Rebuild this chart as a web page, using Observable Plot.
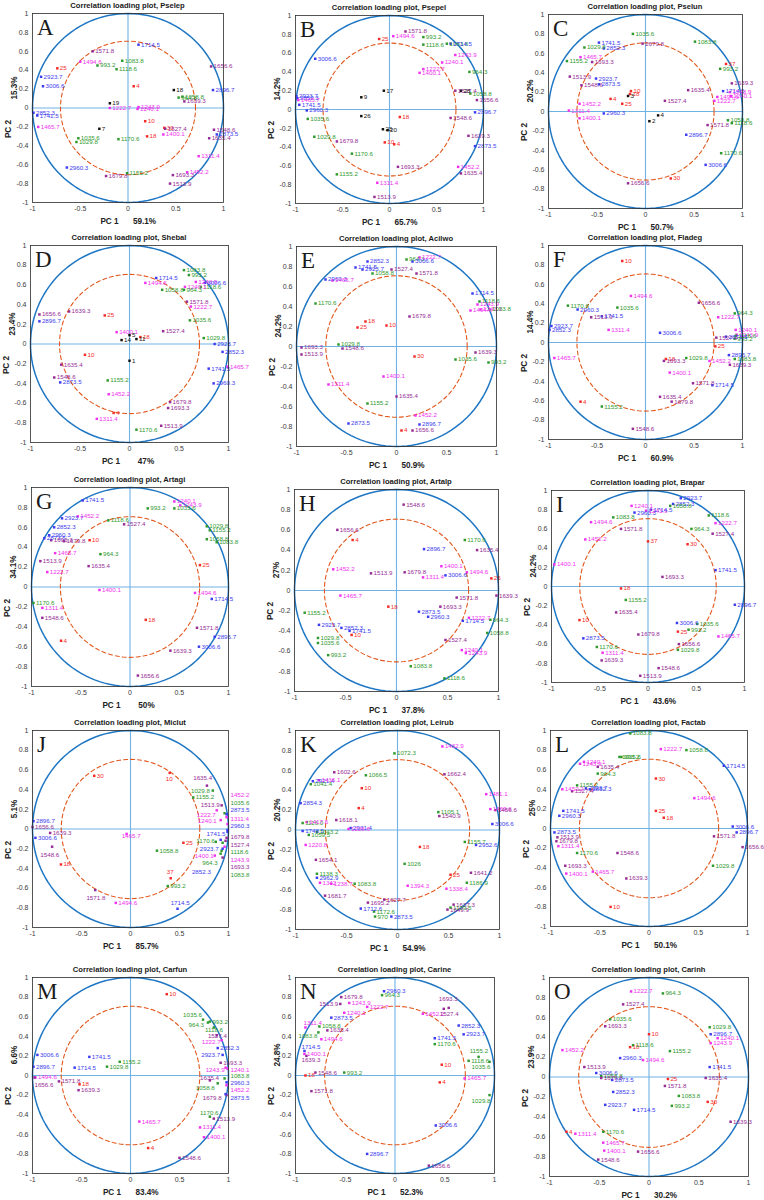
<!DOCTYPE html>
<html><head><meta charset="utf-8">
<script src="https://cdn.jsdelivr.net/npm/d3@7"></script>
<script src="https://cdn.jsdelivr.net/npm/@observablehq/plot@0.6"></script>
<style>
body{margin:0;background:#fff;font-family:"Liberation Sans",Arial,sans-serif;}
#page{position:relative;width:764px;height:1200px;overflow:hidden;background:#fff;}
.t{position:absolute;white-space:nowrap;color:#1a1a1a;line-height:1;}
.pl{position:absolute;}
</style></head><body><div id="page"></div>
<script>
// ---------- chart texts ----------
const titles = ["Pselep","Psepel","Pselun","Shebal","Acilwo","Fladeg","Artagi","Artalp","Brapar","Miclut","Leirub","Factab","Carfun","Carine","Carinh"];
const letters = ["A","B","C","D","E","F","G","H","I","J","K","L","M","N","O"];
const pc1 = ["59.1%","65.7%","50.7%","47%","50.9%","60.9%","50%","37.8%","43.6%","85.7%","54.9%","50.1%","83.4%","52.3%","30.2%"];
const pc2 = ["15.3%","14.2%","20.2%","23.4%","24.2%","14.4%","34.1%","27%","24.2%","5.1%","20.2%","25%","6.6%","24.8%","23.9%"];
const xTicks = [-1,-0.5,0,0.5,1];
const yTicks = [-1,-0.8,-0.6,-0.4,-0.2,0,0.2,0.4,0.6,0.8,1];
const groups = ["b","g","m","p","r","k"];
const groupColors = ["#3c3cf0","#2f9a2f","#f032f0","#962d96","#f52a2a","#111111"];
const innerRadius = 0.707;

// ---------- loadings: [label, PC1, PC2, group, (labelX, labelY, anchor)] ----------
const pA = [["1714.5",0.11,0.67,"b"],["1571.8",-0.37,0.60,"p"],["25",-0.74,0.42,"r"],["1494.6",-0.50,0.49,"m"],["993.2",-0.32,0.45,"g"],["1083.8",-0.06,0.50,"g"],["1118.6",-0.12,0.41,"g"],["1656.6",0.87,0.44,"p"],["2923.7",-0.91,0.33,"b"],["3006.6",-0.89,0.23,"b"],["4",0.06,0.23,"r"],["18",0.48,0.19,"k"],["2896.7",0.89,0.19,"b"],["964.3",0.53,0.11,"g"],["1058.8",0.57,0.12,"g"],["1639.3",0.59,0.07,"p"],["19",-0.19,0.05,"k"],["1222.7",-0.19,0.0,"m"],["1243.9",0.11,0.01,"m"],["1240.1",0.10,-0.01,"m"],["2852.3",-0.99,-0.05,"b"],["1741.5",-0.95,-0.08,"b"],["1465.7",-0.94,-0.20,"m"],["10",0.18,-0.14,"r"],["7",-0.30,-0.22,"k"],["30",0.38,-0.21,"r"],["1527.4",0.39,-0.22,"p"],["1400.1",0.37,-0.28,"m"],["18",0.20,-0.30,"r"],["1548.6",0.90,-0.23,"p"],["2873.5",0.93,-0.28,"b"],["1635.4",0.85,-0.32,"p"],["1035.6",-0.52,-0.32,"g"],["1029.8",-0.54,-0.36,"g"],["1170.6",-0.10,-0.33,"g"],["1311.4",0.74,-0.51,"m"],["2960.3",-0.64,-0.63,"b"],["1679.8",-0.23,-0.72,"p"],["1155.2",-0.01,-0.69,"g"],["1693.3",0.47,-0.71,"p"],["1452.2",0.62,-0.68,"m"],["1513.9",0.44,-0.80,"p"]];

const pB = [["1571.8",0.17,0.83,"p"],["25",-0.11,0.75,"r"],["1494.6",0.04,0.78,"m"],["993.2",0.36,0.77,"g"],["1118.6",0.36,0.69,"g"],["1083.8",0.61,0.70,"g"],["1714.5",0.65,0.70,"b"],["3006.6",-0.79,0.54,"b"],["1243.9",0.70,0.58,"m"],["1240.1",0.56,0.50,"m"],["1222.7",0.36,0.43,"m"],["1400.1",0.32,0.39,"m"],["964.3",0.85,0.40,"g"],["17",-0.06,0.20,"k"],["1527.4",0.70,0.20,"p"],["28",0.76,0.20,"k"],["1058.8",0.86,0.17,"g"],["1656.6",0.93,0.10,"p"],["9",-0.30,0.13,"k"],["2923.7",-0.99,0.14,"b"],["2852.3",-0.98,0.12,"b"],["1465.7",-0.97,0.10,"m"],["1741.5",-0.96,0.05,"b"],["2960.3",-0.88,-0.01,"b"],["1035.6",-0.87,-0.10,"g"],["2896.7",0.91,-0.03,"b"],["26",-0.30,-0.07,"k"],["18",0.11,-0.08,"r"],["1548.6",0.65,-0.09,"p"],["23",-0.07,-0.21,"k"],["20",-0.02,-0.22,"k"],["1029.8",-0.80,-0.29,"g"],["1679.8",-0.56,-0.34,"p"],["1639.3",0.84,-0.28,"p"],["10",-0.05,-0.35,"r"],["4",0.05,-0.37,"r"],["2873.5",0.91,-0.39,"b"],["1170.6",-0.40,-0.47,"g"],["1693.3",0.09,-0.61,"p"],["1452.2",0.73,-0.61,"m"],["1635.4",0.76,-0.68,"p"],["1155.2",-0.56,-0.69,"g"],["1311.4",-0.13,-0.78,"m"],["1513.9",-0.16,-0.93,"p"]];

const pC = [["1035.6",-0.13,0.80,"g"],["1083.8",0.51,0.72,"g"],["1741.5",-0.48,0.71,"b"],["1679.8",-0.03,0.70,"p"],["1029.8",-0.63,0.66,"g"],["2852.3",-0.43,0.65,"b"],["1155.2",-0.81,0.52,"g"],["1465.7",-0.67,0.56,"m"],["1693.3",-0.55,0.51,"p"],["37",0.83,0.49,"r"],["993.2",0.77,0.44,"g"],["1513.9",-0.78,0.36,"p"],["2923.7",-0.51,0.34,"b"],["1548.6",-0.66,0.27,"p"],["2873.5",-0.48,0.28,"b"],["1639.3",0.89,0.29,"p"],["10",-0.15,0.21,"r"],["18",-0.16,0.18,"r"],["3",-0.18,0.16,"k"],["1635.4",0.44,0.22,"p"],["1714.5",0.80,0.21,"b"],["1243.9",0.87,0.20,"m"],["1240.1",0.88,0.16,"m"],["1494.6",0.74,0.15,"m"],["1222.7",0.71,0.11,"m"],["4",-0.36,0.13,"r"],["25",-0.24,0.08,"r"],["1452.2",-0.68,0.08,"m"],["1527.4",0.20,0.11,"p"],["1311.4",-0.79,0.01,"m"],["2960.3",-0.43,-0.02,"b"],["1400.1",-0.68,-0.07,"m"],["4",0.13,-0.04,"k"],["2",0.04,-0.10,"k"],["1058.8",0.85,-0.09,"g"],["1118.6",0.89,-0.12,"g"],["1571.8",0.64,-0.14,"p"],["2896.7",0.42,-0.24,"b"],["1170.6",0.78,-0.43,"g"],["3006.6",0.62,-0.55,"b"],["30",0.26,-0.69,"r"],["1656.6",-0.18,-0.74,"p"]];

const pD = [["1083.8",0.55,0.75,"g"],["993.2",0.60,0.70,"g"],["1714.5",0.27,0.67,"b"],["1494.6",0.16,0.62,"m"],["1243.9",0.67,0.63,"m"],["3006.6",0.76,0.62,"b"],["1118.6",0.72,0.58,"g"],["1240.1",0.56,0.58,"m"],["1058.8",0.33,0.55,"g"],["964.3",0.55,0.55,"g"],["1571.8",0.58,0.43,"p"],["1222.7",0.62,0.38,"m"],["1656.6",-0.91,0.30,"p"],["1639.3",-0.61,0.33,"p"],["25",-0.25,0.29,"r"],["2896.7",-0.91,0.23,"b"],["1035.6",0.61,0.24,"g"],["1400.1",-0.13,0.12,"m"],["1527.4",0.34,0.13,"p"],["5",0.0,0.09,"k"],["18",0.11,0.07,"r"],["11",0.07,0.05,"k"],["14",-0.08,0.04,"k"],["1029.8",0.75,0.06,"g"],["2923.7",0.86,0.0,"b"],["2852.3",0.94,-0.08,"b"],["10",-0.45,-0.11,"r"],["1",0.0,-0.17,"k"],["1635.4",-0.69,-0.21,"p"],["1465.7",0.99,-0.23,"m"],["1741.5",0.80,-0.25,"b"],["1548.6",-0.76,-0.34,"p"],["2873.5",-0.70,-0.39,"b"],["2960.3",0.85,-0.40,"b"],["1155.2",-0.22,-0.37,"g"],["1452.2",-0.21,-0.51,"m"],["1679.8",0.41,-0.59,"p"],["1693.3",0.39,-0.65,"p"],["4",-0.16,-0.70,"r"],["1311.4",-0.33,-0.76,"m"],["1513.9",0.32,-0.83,"p"],["1170.6",0.07,-0.87,"g"]];

const pE = [["964.3",0.10,0.87,"g"],["1222.7",0.23,0.89,"m"],["3006.6",0.16,0.85,"b"],["2852.3",-0.29,0.85,"b"],["1741.5",-0.41,0.79,"b"],["2923.7",-0.34,0.77,"b"],["1527.4",-0.05,0.77,"p"],["1571.8",0.20,0.73,"p"],["1058.8",-0.24,0.73,"g"],["2960.3",-0.71,0.67,"b"],["1465.7",-0.64,0.66,"m"],["1714.5",0.76,0.53,"b"],["1118.6",0.83,0.45,"g"],["1243.9",0.81,0.42,"m"],["1240.1",0.84,0.37,"m"],["1083.8",0.93,0.37,"g"],["1494.6",0.74,0.36,"m"],["1170.6",-0.81,0.43,"g"],["1679.8",0.13,0.30,"p"],["18",-0.31,0.25,"r"],["25",-0.39,0.19,"r"],["10",-0.10,0.21,"r"],["1029.8",-0.58,0.02,"g"],["1693.3",-0.95,-0.01,"p"],["1548.6",-0.54,-0.02,"p"],["1513.9",-0.95,-0.08,"p"],["1639.3",0.79,-0.06,"p"],["30",0.18,-0.10,"r"],["1035.6",0.59,-0.13,"g"],["993.2",0.92,-0.16,"g"],["1400.1",-0.13,-0.30,"m"],["1311.4",-0.68,-0.38,"m"],["1635.4",0.0,-0.50,"p"],["1155.2",-0.29,-0.57,"g"],["1452.2",0.19,-0.69,"m"],["2873.5",-0.48,-0.77,"b"],["2896.7",0.23,-0.78,"b"],["4",0.05,-0.84,"r"],["1656.6",0.16,-0.84,"p"]];

const pF = [["10",-0.24,0.84,"r"],["1494.6",-0.15,0.48,"m"],["1656.6",0.55,0.41,"p"],["1170.6",-0.80,0.38,"g"],["1035.6",-0.29,0.36,"g"],["2960.3",-0.70,0.34,"b"],["1513.9",-0.56,0.26,"p"],["1741.5",-0.45,0.27,"b"],["964.3",0.92,0.30,"g"],["1222.7",0.75,0.26,"m"],["2923.7",-0.97,0.17,"b"],["2852.3",-0.99,0.13,"b"],["1311.4",-0.38,0.13,"m"],["3006.6",0.15,0.10,"b"],["1240.1",0.93,0.13,"m"],["1243.9",0.94,0.08,"m"],["1118.6",0.93,0.07,"g"],["993.2",0.92,0.04,"g"],["1527.4",0.73,0.05,"p"],["2873.5",0.83,0.06,"b"],["25",0.72,-0.04,"r"],["1465.7",-0.94,-0.16,"m"],["2896.7",0.86,-0.13,"b"],["1083.8",0.92,-0.17,"g"],["18",0.21,-0.17,"r"],["1693.3",0.19,-0.19,"p"],["1029.8",0.42,-0.16,"g"],["1452.2",0.66,-0.19,"m"],["1639.3",0.87,-0.23,"p"],["1400.1",0.25,-0.31,"m"],["1571.8",0.49,-0.42,"p"],["1714.5",0.69,-0.44,"b"],["1635.4",0.15,-0.56,"p"],["1679.8",0.27,-0.61,"p"],["4",-0.67,-0.61,"r"],["1155.2",-0.45,-0.66,"g"],["1548.6",-0.13,-0.89,"p"]];

const pG = [["1741.5",-0.48,0.87,"b"],["1240.1",0.45,0.86,"m"],["1243.9",0.51,0.82,"m"],["993.2",0.18,0.79,"g"],["1035.6",0.45,0.79,"g"],["2923.7",-0.69,0.69,"b"],["1452.2",-0.53,0.71,"m"],["1118.6",-0.22,0.67,"g"],["1527.4",-0.06,0.63,"p"],["2852.3",-0.77,0.60,"b"],["1029.8",0.78,0.61,"g"],["1155.2",0.81,0.57,"g"],["2960.3",-0.82,0.52,"b"],["2873.5",-0.87,0.49,"b"],["1693.3",-0.80,0.47,"p"],["1679.8",-0.67,0.46,"p"],["10",-0.41,0.47,"r"],["1058.8",0.78,0.48,"g"],["1083.8",0.88,0.45,"g"],["964.3",-0.30,0.33,"g"],["1465.7",-0.76,0.34,"m"],["1513.9",-0.91,0.26,"p"],["1635.4",-0.42,0.21,"p"],["25",0.71,0.22,"r"],["1222.7",-0.84,0.15,"m"],["1400.1",-0.31,-0.03,"m"],["1494.6",0.66,-0.06,"m"],["1714.5",0.83,-0.12,"b"],["1170.6",-0.98,-0.16,"g"],["1311.4",-0.89,-0.21,"m"],["1548.6",-0.89,-0.31,"p"],["18",0.16,-0.33,"r"],["1571.8",0.68,-0.41,"p"],["2896.7",0.86,-0.50,"b"],["4",-0.70,-0.54,"r"],["3006.6",0.70,-0.60,"b"],["1639.3",0.41,-0.64,"p"],["1656.6",0.08,-0.89,"p"]];

const pH = [["1548.6",0.07,0.85,"p"],["1656.6",-0.58,0.60,"p"],["4",-0.43,0.50,"r"],["1170.6",0.67,0.50,"g"],["2896.7",0.27,0.41,"b"],["1635.4",0.79,0.40,"p"],["1400.1",0.44,0.24,"m"],["1452.2",-0.62,0.21,"m"],["1513.9",-0.25,0.17,"p"],["1679.8",0.08,0.18,"p"],["1494.6",0.69,0.18,"m"],["1311.4",0.26,0.13,"m"],["3006.6",0.48,0.15,"b"],["25",0.93,0.12,"r"],["1639.3",0.98,-0.05,"p"],["1465.7",-0.55,-0.05,"m"],["1571.8",0.59,-0.07,"p"],["18",-0.08,-0.16,"r"],["1693.3",0.43,-0.16,"p"],["1155.2",-0.90,-0.22,"g"],["2873.5",0.22,-0.21,"b"],["2960.3",0.31,-0.26,"b"],["1714.5",0.65,-0.30,"b"],["1222.7",0.71,-0.27,"m"],["964.3",0.92,-0.29,"g"],["2923.7",-0.76,-0.34,"b"],["2852.3",-0.54,-0.37,"b"],["1741.5",-0.46,-0.40,"b"],["10",-0.44,-0.44,"r"],["1058.8",0.89,-0.42,"g"],["1029.8",-0.77,-0.47,"g"],["1035.6",-0.77,-0.52,"g"],["1527.4",0.48,-0.49,"p"],["1240.1",0.64,-0.59,"m"],["1243.9",0.68,-0.62,"m"],["993.2",-0.67,-0.64,"g"],["1083.8",0.14,-0.75,"g"],["1118.6",0.47,-0.87,"g"]];

const pI = [["2923.7",0.34,0.92,"b"],["2852.3",0.26,0.86,"b"],["1058.8",0.23,0.84,"g"],["1240.1",-0.17,0.84,"m"],["2960.3",-0.14,0.77,"b"],["1243.9",-0.02,0.79,"m"],["1714.5",0.03,0.80,"b"],["1083.8",-0.36,0.72,"g"],["1118.6",0.63,0.74,"g"],["1494.6",-0.59,0.67,"m"],["1222.7",0.70,0.66,"m"],["964.3",0.45,0.60,"g"],["1571.8",-0.28,0.60,"p"],["1527.4",0.67,0.55,"p"],["1452.2",-0.65,0.49,"m"],["37",0.0,0.47,"r"],["30",0.41,0.44,"r"],["1400.1",-0.97,0.23,"m"],["1741.5",0.70,0.17,"b"],["1693.3",0.15,0.10,"p"],["18",-0.28,-0.02,"r"],["1155.2",-0.23,-0.14,"g"],["2896.7",0.90,-0.19,"b"],["1635.4",-0.33,-0.27,"p"],["10",-0.71,-0.35,"r"],["3006.6",0.30,-0.38,"b"],["1035.6",0.51,-0.39,"g"],["993.2",0.42,-0.45,"g"],["25",0.31,-0.47,"r"],["1679.8",-0.10,-0.50,"p"],["1465.7",0.73,-0.52,"m"],["2873.5",-0.67,-0.54,"b"],["1656.6",0.32,-0.60,"p"],["1170.6",-0.53,-0.63,"g"],["1029.8",0.31,-0.66,"g"],["1311.4",-0.47,-0.69,"m"],["1639.3",-0.48,-0.77,"p"],["1548.6",0.11,-0.85,"p"],["1513.9",-0.08,-0.93,"p"]];

const pJ = [["30",-0.37,0.54,"r"],["10",0.40,0.57,"r",0.36,0.51,"start"],["1635.4",0.78,0.44,"p",0.64,0.52,"start"],["1029.8",0.84,0.39,"g",0.81,0.39,"end"],["1155.2",0.64,0.32,"g"],
["1452.2",0.98,0.12,"m",1.02,0.34,"start"],["1035.6",0.96,0.16,"g",1.02,0.26,"start"],["2873.5",0.98,0.15,"b",1.02,0.19,"start"],["1311.4",0.99,0.05,"m",1.02,0.10,"start"],["2960.3",0.99,-0.01,"b",1.02,0.03,"start"],["1679.8",0.98,-0.09,"p",1.02,-0.08,"start"],["1527.4",0.97,-0.12,"p",1.02,-0.16,"start"],["1118.6",0.94,-0.14,"g",1.02,-0.23,"start"],["1243.9",0.96,-0.18,"m",1.02,-0.31,"start"],["1693.3",0.94,-0.29,"p",1.02,-0.39,"start"],["1083.8",0.93,-0.22,"g",1.02,-0.47,"start"],
["1513.9",0.93,0.24,"p",0.91,0.24,"end"],["1222.7",0.88,0.19,"m",0.87,0.14,"end"],["1240.1",0.92,0.09,"m",0.88,0.08,"end"],["1741.5",0.99,-0.03,"b",0.97,-0.05,"end"],["1170.6",0.87,-0.13,"g",0.86,-0.12,"end"],["2923.7",0.92,-0.11,"b",0.90,-0.20,"end"],["1400.1",0.86,-0.27,"m",0.85,-0.27,"end"],["964.3",0.92,-0.25,"g",0.89,-0.35,"end"],["2852.3",0.94,-0.20,"b",0.82,-0.44,"end"],
["2896.7",-0.99,0.08,"b"],["1656.6",-1.0,0.02,"p"],["1639.3",-0.82,-0.04,"p"],["3006.6",-0.97,-0.09,"b"],["1548.6",-0.80,-0.18,"p",-0.92,-0.26,"start"],["1465.7",-0.04,-0.05,"m",-0.09,-0.07,"start"],["25",0.54,-0.14,"r"],["1058.8",0.27,-0.22,"g"],["18",-0.71,-0.36,"r"],["37",0.41,-0.50,"r",0.37,-0.44,"start"],["993.2",0.38,-0.58,"g"],["1571.8",-0.36,-0.62,"p",-0.45,-0.70,"start"],["1494.6",-0.15,-0.75,"m"],["1714.5",0.48,-0.81,"b",0.41,-0.75,"start"]];

const pK = [["1432.9",0.44,0.84,"m"],["1072.3",-0.03,0.77,"g"],["1602.6",-0.62,0.58,"p"],["1662.4",0.46,0.56,"p"],["1066.5",-0.31,0.55,"g"],["2921.4",-0.83,0.49,"b"],["1436.1",-0.77,0.50,"m"],["1041.4",-0.85,0.46,"g"],["10",-0.35,0.42,"r"],["1481.1",0.87,0.36,"m"],["2854.3",-0.95,0.27,"b"],["4",-0.38,0.22,"r"],["1469.6",0.91,0.21,"m"],["1456.6",0.96,0.20,"p"],["1105.1",0.40,0.18,"g"],["1540.9",0.41,0.14,"p"],["1618.1",-0.60,0.10,"p"],["1116.0",-0.93,0.07,"g"],["1417.6",-0.89,0.08,"m"],["3006.6",0.93,0.06,"b"],["2931.4",-0.46,0.02,"b"],["1226.6",-0.48,0.01,"m"],["1748.5",-0.93,-0.01,"b"],["1043.2",-0.79,-0.02,"g"],["1059.5",-0.87,-0.05,"g"],["1155.7",0.66,-0.12,"g"],["2952.6",0.77,-0.15,"b"],["18",0.22,-0.17,"r"],["1220.8",-0.90,-0.15,"m"],["1654.1",-0.80,-0.30,"p"],["1026",0.07,-0.34,"g"],["1641.2",0.72,-0.43,"p"],["25",0.52,-0.45,"r"],["1138.3",-0.79,-0.44,"g"],["2962.9",-0.79,-0.48,"b"],["1186.9",0.68,-0.53,"g"],["1342",-0.76,-0.53,"m"],["1238.7",-0.65,-0.54,"m"],["1083.8",-0.42,-0.54,"g"],["1394.3",0.10,-0.56,"m"],["1338.4",0.48,-0.59,"m"],["1681.7",-0.71,-0.66,"p"],["1627.7",-0.13,-0.70,"p"],["1695.2",-0.29,-0.73,"p"],["1637.3",0.55,-0.75,"p"],["1109.5",0.52,-0.78,"g"],["1649.9",0.49,-0.80,"p"],["1712.6",-0.36,-0.79,"b"],["1172.6",-0.23,-0.82,"g"],["970",-0.22,-0.87,"g"],["2873.5",-0.06,-0.87,"b"]];

const pL = [["1083.8",-0.19,0.97,"g"],["1222.7",0.12,0.81,"m"],["1058.8",0.38,0.80,"g"],["1714.5",0.76,0.64,"b"],["1035.6",-0.30,0.73,"g"],["993.2",-0.28,0.73,"g"],["1240.1",-0.66,0.68,"m"],["1243.9",-0.70,0.66,"m"],["1635.4",-0.52,0.63,"p"],["964.3",-0.52,0.56,"g"],["30",0.07,0.51,"r"],["1155.2",-0.73,0.44,"g"],["1452.2",-0.88,0.40,"m"],["2923.7",-0.64,0.41,"b"],["2852.3",-0.60,0.40,"b"],["1527.4",-0.78,0.38,"p"],["1494.6",0.46,0.31,"m"],["1741.5",-0.87,0.18,"b"],["2960.3",-0.91,0.13,"b"],["25",0.07,0.18,"r"],["18",0.15,0.11,"r"],["3006.6",0.85,0.02,"b"],["2896.7",0.89,-0.04,"b"],["2873.5",-0.96,-0.04,"b"],["1513.9",-0.93,-0.09,"p"],["1571.8",0.66,-0.08,"p"],["1679.8",-0.94,-0.13,"p"],["1656.6",0.95,-0.19,"p"],["1311.4",-0.92,-0.18,"m"],["1170.6",-0.73,-0.25,"g"],["1548.6",-0.32,-0.25,"p"],["1693.3",-0.85,-0.38,"p"],["1029.8",0.65,-0.38,"g"],["1465.7",-0.57,-0.44,"m"],["1400.1",-0.84,-0.46,"m"],["1639.3",-0.23,-0.51,"p"],["10",-0.39,-0.80,"r"]];

const pM = [["10",0.37,0.83,"r"],["1035.6",0.74,0.57,"g",0.73,0.62,"end"],["993.2",0.81,0.55,"g"],["964.3",0.79,0.54,"g",0.75,0.52,"end"],["1118.6",0.85,0.49,"g",0.76,0.46,"start"],["1527.4",0.88,0.41,"p",0.79,0.40,"start"],["1222.7",0.93,0.36,"m",0.92,0.34,"end"],["2852.3",0.89,0.28,"b"],["2923.7",0.94,0.21,"b",0.915,0.21,"end"],["3006.6",-0.95,0.21,"b"],["1741.5",-0.42,0.19,"b"],["1155.2",-0.11,0.14,"g"],["1029.8",-0.24,0.09,"g"],["1714.5",-0.57,0.08,"b"],["2896.7",-0.99,0.09,"b"],["1693.3",0.92,0.13,"p"],["1243.9",0.97,0.08,"m",0.96,0.06,"end"],["1240.1",0.99,0.07,"m",1.02,0.06,"start"],["1494.6",-0.97,-0.02,"m"],["1656.6",-0.98,-0.02,"p",-0.98,-0.095,"start"],["1571.8",-0.73,-0.06,"p"],["18",-0.52,-0.09,"r"],["1639.3",-0.53,-0.15,"p"],["1635.4",0.81,-0.05,"p",0.71,-0.03,"start"],["1083.8",0.96,-0.03,"g",1.02,-0.01,"start"],["2960.3",0.98,-0.07,"b",1.02,-0.08,"start"],["1058.8",0.89,-0.08,"g",0.86,-0.13,"end"],["1452.2",0.98,-0.10,"m",1.02,-0.15,"start"],["1679.8",0.98,-0.20,"p",0.93,-0.23,"end"],["2873.5",0.97,-0.19,"b",1.02,-0.23,"start"],["1170.6",0.81,-0.42,"g",0.71,-0.38,"start"],["1513.9",0.85,-0.44,"p"],["1465.7",0.09,-0.47,"m"],["1311.4",0.71,-0.53,"m"],["1400.1",0.75,-0.63,"m"],["4",0.18,-0.74,"r"],["1548.6",0.50,-0.84,"p"]];

const pN = [["2960.3",-0.11,0.86,"b"],["964.3",-0.13,0.82,"g"],["1679.8",-0.54,0.80,"p"],["1513.9",-0.55,0.73,"p",-0.57,0.73,"end"],["1243.9",-0.46,0.74,"m"],["1222.7",-0.28,0.70,"m"],["1693.3",0.49,0.68,"p",0.44,0.78,"start"],["1527.4",0.54,0.69,"p",0.45,0.63,"start"],["1240.1",-0.51,0.64,"m"],["1452.2",0.28,0.63,"m"],["2873.5",-0.64,0.59,"b"],["2852.3",0.64,0.51,"b"],["1311.4",-0.90,0.49,"m",-0.92,0.54,"start"],["1058.8",-0.76,0.50,"g"],["1083.8",-0.77,0.44,"g",-0.78,0.40,"end"],["2923.7",0.69,0.42,"b"],["1635.4",-0.68,0.46,"p"],["1494.6",-0.74,0.37,"m"],["1741.5",0.40,0.38,"b"],["1170.6",0.40,0.32,"g"],["1714.5",-0.91,0.25,"b",-0.94,0.295,"start"],["1400.1",-0.91,0.22,"m"],["1639.3",-0.89,0.20,"p",-0.94,0.16,"start"],["1155.2",0.84,0.19,"g",0.75,0.25,"start"],["1118.6",0.74,0.15,"g"],["1035.6",0.95,0.14,"g",0.77,0.085,"start"],["10",0.47,0.11,"r"],["1548.6",-0.80,0.03,"p"],["993.2",-0.51,0.03,"g"],["18",-0.90,0.0,"r"],["4",0.45,-0.07,"r"],["1465.7",0.70,-0.03,"m"],["1571.8",-0.84,-0.16,"p"],["1029.8",0.95,-0.20,"g",0.77,-0.26,"start"],["3006.6",0.41,-0.51,"b"],["2896.7",-0.28,-0.80,"b"],["1656.6",0.34,-0.92,"p"]];

const pO = [["1222.7",-0.18,0.86,"m"],["964.3",0.14,0.84,"g"],["1527.4",-0.26,0.73,"p"],["1035.6",-0.39,0.58,"g"],["1029.8",0.61,0.50,"g"],["1693.3",-0.44,0.51,"p"],["2896.7",0.62,0.43,"b"],["1240.1",0.69,0.39,"m"],["10",0.0,0.43,"r"],["1243.9",0.62,0.34,"m"],["18",-0.19,0.30,"r"],["1118.6",-0.16,0.32,"g"],["1155.2",0.21,0.26,"g"],["1452.2",-0.87,0.27,"m"],["2960.3",-0.29,0.19,"b"],["1494.6",-0.06,0.17,"m"],["1741.5",0.61,0.10,"b"],["1513.9",-0.65,0.10,"p"],["3006.6",-0.53,0.04,"b"],["1058.8",-0.48,0.01,"g"],["1679.8",-0.48,-0.01,"p"],["2873.5",-0.37,-0.03,"b"],["1635.4",0.57,-0.01,"p"],["25",0.19,-0.02,"r"],["1571.8",0.16,-0.09,"p"],["2852.3",-0.36,-0.15,"b"],["1083.8",0.30,-0.19,"g"],["30",0.59,-0.25,"r"],["2923.7",-0.44,-0.28,"b"],["993.2",0.23,-0.29,"g"],["1714.5",-0.15,-0.33,"b"],["1639.3",0.82,-0.45,"p"],["4",-0.83,-0.55,"r"],["1311.4",-0.74,-0.57,"m"],["1170.6",-0.46,-0.55,"g"],["1465.7",-0.46,-0.66,"m"],["1400.1",-0.45,-0.74,"m"],["1656.6",-0.11,-0.75,"p"],["1548.6",-0.51,-0.83,"p"]];

const panels = [pA,pB,pC,pD,pE,pF,pG,pH,pI,pJ,pK,pL,pM,pN,pO];

// ---------- layout (frame boxes in page pixels: left, top, right, bottom) ----------
const frames = [[32,13,223,202],[295,15,483,203],[548,14,742,208],[30,245,228,442],[296,246,496,446],[548,245,742,439],[31,487,228,686],[294,489,498,691],[551,490,744,682],[32,730,228,927],[295,730,499,929],[550,730,747,926],[32,977,228,1173],[295,977,494,1173],[549,977,748,1176]];

const page = document.getElementById("page");
const fmt = d => (Math.abs(d) < 1e-9 ? "0" : String(+d.toFixed(1)));
const circle = r => d3.range(0, 361, 3).map(a => ({x: r*Math.cos(a*Math.PI/180), y: r*Math.sin(a*Math.PI/180)}));

function addText(txt, x, y, css, center=true, rotate=false) {
  const d = document.createElement("div");
  d.className = "t";
  d.textContent = txt;
  d.style.cssText += css;
  d.style.left = x + "px";
  d.style.top = y + "px";
  let tr = center ? "translate(-50%,-50%)" : "";
  if (rotate) tr += " rotate(-90deg)";
  d.style.transform = tr;
  page.appendChild(d);
}

panels.forEach((data, i) => {
  const [L,T,R,B] = frames[i];
  const ml = 28, mr = 4, mt = 2, mb = 16;
  const W = R - L + ml + mr, H = B - T + mt + mb;
  const rows = data.map(d => ({label: d[0], x: d[1], y: d[2], g: d[3],
    lx: d.length > 4 ? d[4] : d[1], ly: d.length > 4 ? d[5] : d[2], anchor: d.length > 4 ? d[6] : "auto"}));
  const textOpts = {x: "lx", y: "ly", text: "label", fill: "g", fontSize: 6.2, fontFamily: "Liberation Sans, Arial, sans-serif"};
  const svg = Plot.plot({
    width: W, height: H, marginLeft: ml, marginRight: mr, marginTop: mt, marginBottom: mb,
    style: {fontFamily: "Liberation Sans, Arial, sans-serif", fontSize: "7px", color: "#3a3a3a", background: "transparent", overflow: "visible"},
    x: {domain: [-1,1], ticks: xTicks, tickSize: 0, tickPadding: 4, tickFormat: fmt, label: null},
    y: {domain: [-1,1], ticks: yTicks, tickSize: 0, tickPadding: 4, tickFormat: fmt, label: null},
    color: {domain: groups, range: groupColors},
    marks: [
      Plot.ruleX([0], {stroke: "#6fb2e4", strokeWidth: 1.1}),
      Plot.ruleY([0], {stroke: "#6fb2e4", strokeWidth: 1.1}),
      Plot.line(circle(1), {x: "x", y: "y", stroke: "#1f77c4", strokeWidth: 1.5}),
      Plot.line(circle(innerRadius), {x: "x", y: "y", stroke: "#e2571c", strokeWidth: 1.1, strokeDasharray: "4,3"}),
      Plot.dot(rows, {x: "x", y: "y", fill: "g", symbol: "square", r: 1.4}),
      Plot.text(rows.filter(d => d.anchor === "auto"), {...textOpts, textAnchor: "start", dx: 2.5}),
      Plot.text(rows.filter(d => d.anchor === "start"), {...textOpts, textAnchor: "start"}),
      Plot.text(rows.filter(d => d.anchor === "end"), {...textOpts, textAnchor: "end"}),
      Plot.frame({stroke: "#2b2b2b", strokeWidth: 0.8})
    ]
  });
  svg.classList.add("pl");
  svg.style.left = (L - ml) + "px";
  svg.style.top = (T - mt) + "px";
  page.appendChild(svg);

  const cx = (L + R) / 2, cy = (T + B) / 2;
  addText("Correlation loading plot, " + titles[i], cx, T - 7, "font-size:7.6px;font-weight:bold;");
  addText(letters[i], L + 5, T + 3, "font-family:'Liberation Serif','Times New Roman',serif;font-size:23px;", false);
  addText("PC 1", cx - 18, B + 20, "font-size:8.2px;font-weight:bold;color:#222;");
  addText(pc1[i], cx + 17, B + 20, "font-size:8.2px;font-weight:bold;color:#222;");
  addText("PC 2", L - 23, cy + 21, "font-size:8.2px;font-weight:bold;color:#222;", true, true);
  addText(pc2[i], L - 17, cy - 20, "font-size:8.2px;font-weight:bold;color:#222;", true, true);
});
</script></body></html>
